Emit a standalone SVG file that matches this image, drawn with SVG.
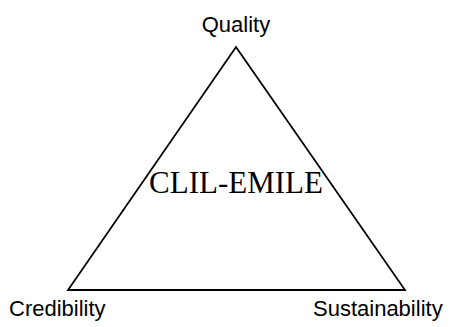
<svg xmlns="http://www.w3.org/2000/svg" width="454" height="327" viewBox="0 0 454 327">
  <style>
    .lbl { font-family: "Liberation Sans", Arial, sans-serif; font-size: 22px; fill: #000; }
    .core { font-family: "Liberation Serif", "Times New Roman", serif; font-size: 31px; fill: #000; }
    .edge { fill: none; stroke: #000; stroke-width: 1.8; stroke-linejoin: miter; }
  </style>
  <rect width="454" height="327" fill="#fff"/>
  <g id="connectors">
    <polygon class="edge" points="236,47 405,290 68,290"/>
  </g>
  <g id="center">
    <text class="core" x="236" y="193" text-anchor="middle">CLIL-EMILE</text>
  </g>
  <g id="quality">
    <text class="lbl" x="236" y="32" text-anchor="middle">Quality</text>
  </g>
  <g id="credibility">
    <text class="lbl" x="9" y="316">Credibility</text>
  </g>
  <g id="sustainability">
    <text class="lbl" x="313" y="316">Sustainability</text>
  </g>
</svg>
